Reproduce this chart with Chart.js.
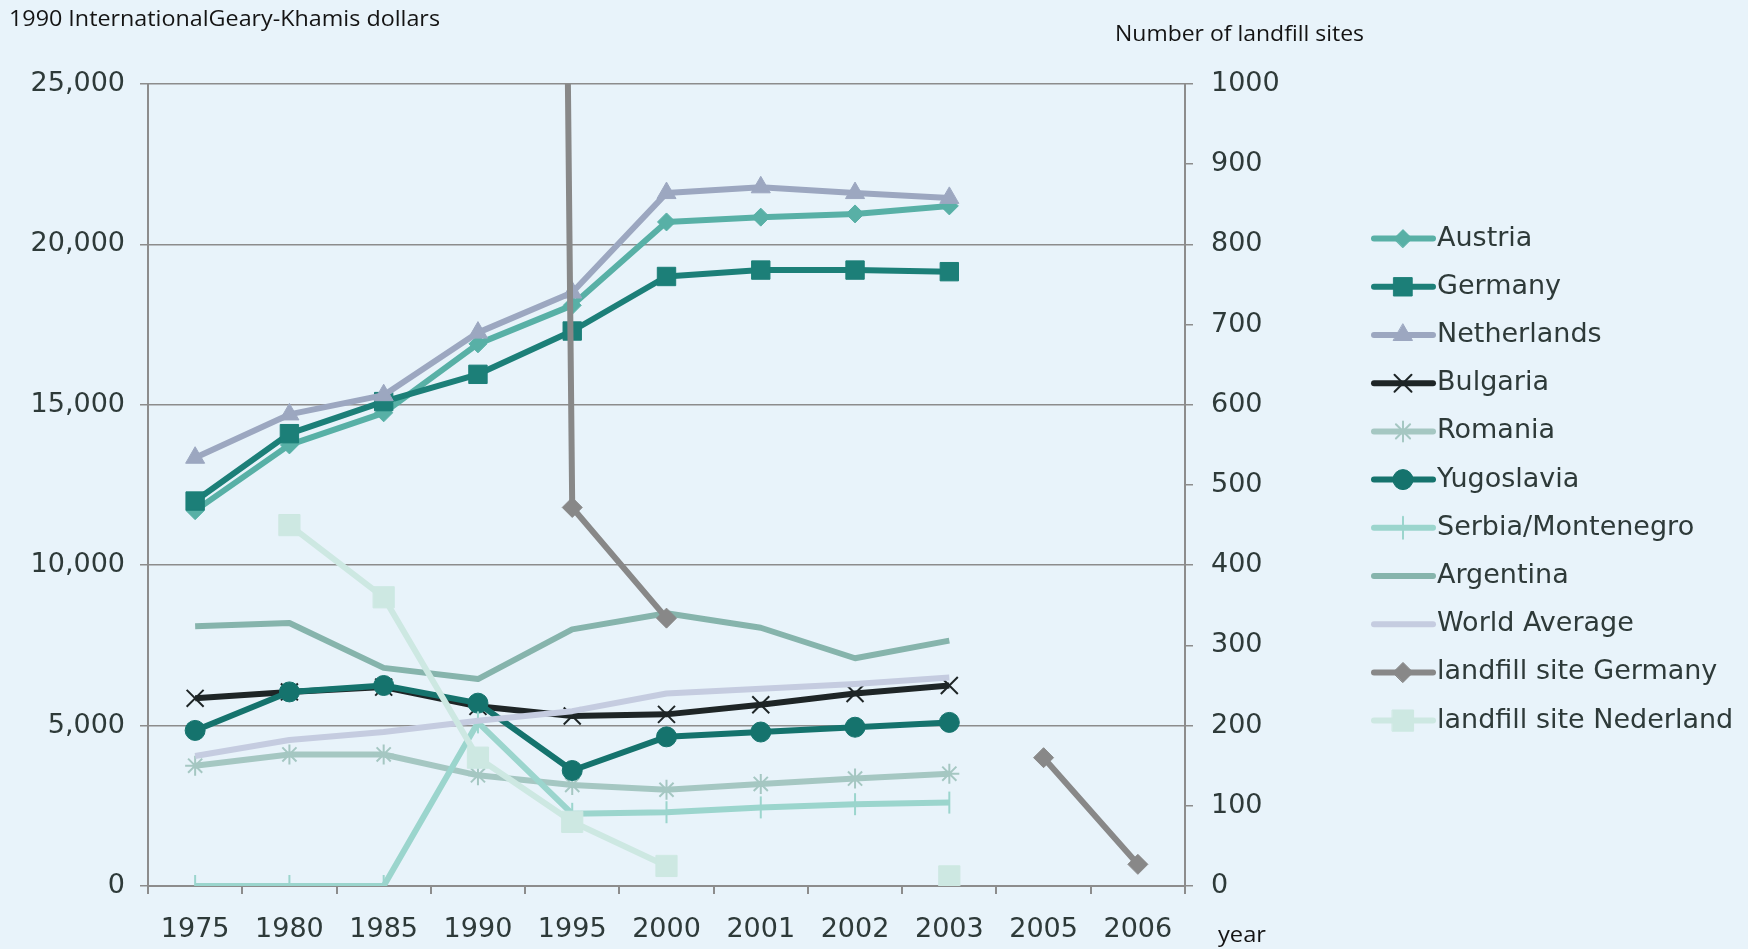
<!DOCTYPE html>
<html>
<head>
<meta charset="utf-8">
<title>GDP and landfill sites</title>
<script src="https://cdn.jsdelivr.net/npm/chart.js@4.4.1/dist/chart.umd.min.js"></script>
<style>
	html, body { margin: 0; padding: 0; background: #e8f3fa; }
	#wrap { width: 1748px; height: 949px; position: relative; }
</style>
</head>
<body>
<div id="wrap"><canvas id="chart"></canvas></div>
<script>
// Categories
const years = [ '1975', '1980', '1985', '1990', '1995', '2000', '2001', '2002', '2003', '2005', '2006' ];

// GDP per capita, 1990 international Geary-Khamis dollars (left axis)
const austria = [ 11700, 13750, 14750, 16900, 18100, 20700, 20850, 20950, 21200, null, null ];
const germany = [ 12000, 14100, 15100, 15950, 17300, 19000, 19200, 19200, 19150, null, null ];
const netherlands = [ 13350, 14700, 15300, 17250, 18500, 21600, 21780, 21600, 21450, null, null ];
const bulgaria = [ 5850, 6050, 6200, 5600, 5300, 5350, 5650, 6000, 6250, null, null ];
const romania = [ 3750, 4100, 4100, 3450, 3150, 3000, 3180, 3350, 3500, null, null ];
const yugoslavia = [ 4850, 6050, 6250, 5700, 3600, 4650, 4800, 4950, 5100, null, null ];
const serbiaMontenegro = [ 0, 0, 0, 5100, 2250, 2300, 2450, 2550, 2600, null, null ];
const argentina = [ 8100, 8200, 6800, 6450, 8000, 8500, 8050, 7100, 7650, null, null ];
const worldAverage = [ 4050, 4550, 4800, 5150, 5450, 6000, 6150, 6300, 6500, null, null ];

// Number of landfill sites (right axis)
const landfillGermany = [ null, null, null, 12000, 472, 334, null, null, null, 160, 27 ];
const landfillNederland = [ null, 450, 360, 160, 80, 25, null, null, 12, null, null ];

// Axis ticks
const leftTicks = { min: 0, max: 25000, step: 5000 };
const rightTicks = { min: 0, max: 1000, step: 100 };

const textColor = '#2e3a39';
const axisColor = '#8c8c8c';
const tickFont = { family: 'DejaVu Sans', size: 27 };

const series = [
	{ label: 'Austria', data: austria, color: '#58b0a6', style: 'rectRot', radius: 9 },
	{ label: 'Germany', data: germany, color: '#1c7f78', style: 'rect', radius: 13 },
	{ label: 'Netherlands', data: netherlands, color: '#9ca7c0', style: 'triangle', radius: 11 },
	{ label: 'Bulgaria', data: bulgaria, color: '#1e2526', style: 'crossRot', radius: 12, thin: true },
	{ label: 'Romania', data: romania, color: '#a5c7c2', style: 'star', radius: 10, thin: true },
	{ label: 'Yugoslavia', data: yugoslavia, color: '#15736d', style: 'circle', radius: 10 },
	{ label: 'Serbia/Montenegro', data: serbiaMontenegro, color: '#9bd5cd', style: 'line', radius: 11, rotation: 90, thin: true },
	{ label: 'Argentina', data: argentina, color: '#86b4ac', style: 'circle', radius: 0 },
	{ label: 'World Average', data: worldAverage, color: '#c5cce0', style: 'circle', radius: 0 },
	{ label: 'landfill site Germany', data: landfillGermany, color: '#888888', style: 'rectRot', radius: 10, axis: 'y1', clip: 0 },
	{ label: 'landfill site Nederland', data: landfillNederland, color: '#cde8e2', style: 'rect', radius: 15, axis: 'y1' }
];

const datasets = series.map( function ( s, i ) {
	const ds = {
		label: s.label,
		data: s.data,
		yAxisID: s.axis || 'y',
		borderColor: s.color,
		backgroundColor: s.color,
		borderWidth: 6,
		borderJoinStyle: 'round',
		pointStyle: s.style,
		pointRadius: s.radius,
		pointHoverRadius: s.radius,
		pointBackgroundColor: s.color,
		pointBorderColor: s.color,
		pointBorderWidth: s.thin ? 2 : 1,
		pointRotation: s.rotation || 0,
		tension: 0,
		spanGaps: false,
		// later series on top, like the original
		order: series.length - i
	};
	if ( s.clip !== undefined ) {
		ds.clip = s.clip;
	}
	return ds;
} );

// Legend on the right: line + marker + label
const sideLegend = {
	id: 'sideLegend',
	afterDraw( chart ) {
		const ctx = chart.ctx;
		chart.data.datasets.forEach( function ( ds, i ) {
			const y = 238.6 + i * 48.2;
			ctx.save();
			ctx.strokeStyle = ds.borderColor;
			ctx.lineWidth = 6;
			ctx.lineCap = 'round';
			ctx.beginPath();
			ctx.moveTo( 1374, y );
			ctx.lineTo( 1433, y );
			ctx.stroke();
			if ( ds.pointRadius > 0 ) {
				ctx.fillStyle = ds.pointBackgroundColor;
				ctx.strokeStyle = ds.pointBorderColor;
				ctx.lineWidth = ds.pointBorderWidth;
				Chart.helpers.drawPoint( ctx, {
					pointStyle: ds.pointStyle,
					radius: ds.pointRadius,
					rotation: ds.pointRotation,
					borderWidth: ds.pointBorderWidth
				}, 1403, y );
			}
			ctx.fillStyle = textColor;
			ctx.font = '27px "DejaVu Sans"';
			ctx.textBaseline = 'middle';
			ctx.textAlign = 'left';
			ctx.fillText( ds.label, 1437, y );
			ctx.restore();
		} );
	}
};

// Axis titles, narrow like the original
function drawFitted( ctx, text, x, y, width ) {
	const w = ctx.measureText( text ).width;
	ctx.save();
	ctx.translate( x, y );
	ctx.scale( width / w, 1 );
	ctx.fillText( text, 0, 0 );
	ctx.restore();
}

const axisTitles = {
	id: 'axisTitles',
	afterDraw( chart ) {
		const ctx = chart.ctx;
		ctx.save();
		ctx.fillStyle = '#141414';
		ctx.font = '22px "Open Sans"';
		ctx.textBaseline = 'middle';
		ctx.textAlign = 'left';
		drawFitted( ctx, '1990 InternationalGeary-Khamis dollars', 9, 20, 431 );
		drawFitted( ctx, 'Number of landfill sites', 1115, 34.5, 249 );
		drawFitted( ctx, 'year', 1218, 936, 48 );
		ctx.restore();
	}
};

new Chart( document.getElementById( 'chart' ).getContext( '2d' ), {
	type: 'line',
	data: {
		labels: years,
		datasets: datasets
	},
	plugins: [ sideLegend, axisTitles ],
	options: {
		responsive: true,
		maintainAspectRatio: false,
		animation: false,
		layout: { padding: { top: 84, left: 0, right: 0, bottom: 0 } },
		plugins: {
			legend: { display: false },
			tooltip: { enabled: false }
		},
		scales: {
			x: {
				type: 'category',
				offset: true,
				afterFit: function ( scale ) { scale.height = 63; },
				grid: { offset: true, drawOnChartArea: false, tickLength: 8, color: axisColor, lineWidth: 2 },
				border: { color: axisColor, width: 2 },
				ticks: { font: tickFont, color: textColor, padding: 20, maxRotation: 0, autoSkip: false }
			},
			y: {
				position: 'left',
				min: leftTicks.min,
				max: leftTicks.max,
				afterFit: function ( scale ) { scale.width = 148; },
				grid: { color: axisColor, lineWidth: 1.5, tickLength: 8 },
				border: { color: axisColor, width: 2 },
				ticks: { stepSize: leftTicks.step, font: tickFont, color: textColor, padding: 15 }
			},
			y1: {
				position: 'right',
				min: rightTicks.min,
				max: rightTicks.max,
				afterFit: function ( scale ) { scale.width = 1748 - 1185; },
				grid: { drawOnChartArea: false, color: axisColor, lineWidth: 1.5, tickLength: 8 },
				border: { color: axisColor, width: 2 },
				ticks: {
					stepSize: rightTicks.step,
					font: tickFont,
					color: textColor,
					padding: 18,
					callback: function ( value ) { return String( value ); }
				}
			}
		}
	}
} );
</script>
</body>
</html>
